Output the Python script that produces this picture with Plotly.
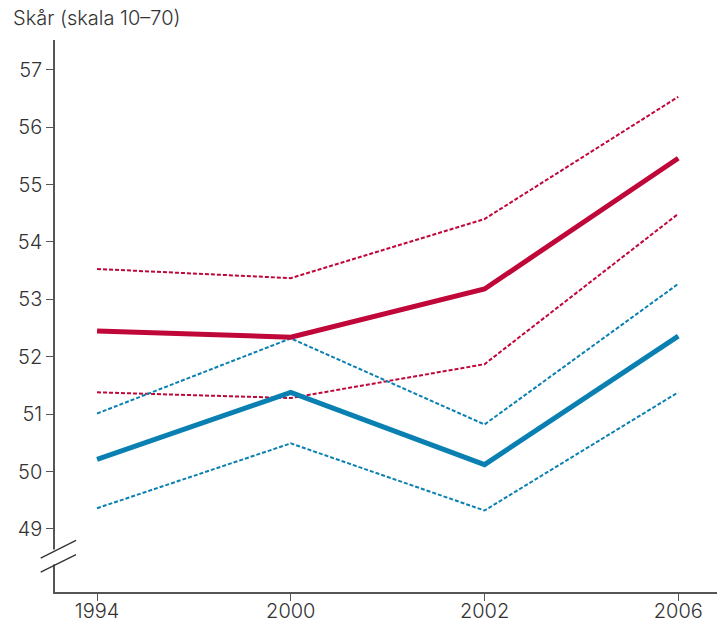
import plotly.graph_objects as go

# Survey years and score series (scale 10-70)
years = ["1994", "2000", "2002", "2006"]

red_mean = [52.45, 52.34, 53.18, 55.46]
red_upper = [53.53, 53.37, 54.40, 56.53]
red_lower = [51.38, 51.28, 51.87, 54.49]

blue_mean = [50.21, 51.38, 50.12, 52.36]
blue_upper = [51.01, 52.32, 50.82, 53.27]
blue_lower = [49.36, 50.49, 49.32, 51.38]

y_ticks = [49, 50, 51, 52, 53, 54, 55, 56, 57]

RED = "#C0073A"
BLUE = "#0A80B2"
AXIS = "#555555"
TEXT = "#333333"
FONT = "Inter"
FS = 20
WEIGHT = 300

fig = go.Figure()

def add_line(vals, color, width, dash):
    fig.add_trace(go.Scatter(
        x=years, y=vals, mode="lines",
        line=dict(color=color, width=width, dash=dash),
        hoverinfo="skip", showlegend=False,
    ))

add_line(red_upper, RED, 2, "4px,2px")
add_line(red_lower, RED, 2, "4px,2px")
add_line(blue_upper, BLUE, 2, "4px,2px")
add_line(blue_lower, BLUE, 2, "4px,2px")
add_line(red_mean, RED, 5, "solid")
add_line(blue_mean, BLUE, 5, "solid")

# Break marks on the y axis (paper x, data y)
shapes = [
    dict(type="rect", xref="paper", yref="y", x0=-0.01, x1=0.01,
         y0=48.38, y1=48.64, fillcolor="white", line=dict(width=0),
         layer="above"),
    dict(type="line", xref="paper", yref="y", x0=-0.0216, x1=0.0317,
         y0=48.49, y1=48.80, line=dict(color="#333333", width=1.3),
         layer="above"),
    dict(type="line", xref="paper", yref="y", x0=-0.0216, x1=0.0317,
         y0=48.245, y1=48.55, line=dict(color="#333333", width=1.3),
         layer="above"),
]

tick_font = dict(family=FONT, size=FS, color=TEXT, weight=WEIGHT)

fig.update_layout(
    width=719, height=624,
    margin=dict(l=55, r=2, t=40, b=32),
    paper_bgcolor="white", plot_bgcolor="white",
    font=dict(family=FONT, size=FS, color=TEXT, weight=WEIGHT),
    shapes=shapes,
    annotations=[dict(
        text="Skår (skala 10–70)", xref="paper", yref="paper",
        x=-0.066, y=1.0, yshift=8, xanchor="left", yanchor="bottom",
        showarrow=False, font=tick_font,
    )],
    xaxis=dict(
        type="category", range=[-0.217, 3.2], automargin=False,
        showgrid=False, zeroline=False,
        showline=True, linecolor=AXIS, linewidth=1.5,
        ticks="outside", ticklen=7, tickcolor=AXIS, tickwidth=1.3,
        ticklabelstandoff=-7,
        tickfont=tick_font,
    ),
    yaxis=dict(
        range=[47.9, 57.52], tickvals=y_ticks, automargin=False,
        showgrid=False, zeroline=False,
        showline=True, linecolor=AXIS, linewidth=1.5,
        ticks="outside", ticklen=7, tickcolor=AXIS, tickwidth=1.3,
        tickfont=tick_font,
    ),
)

fig.write_html("out.html")
